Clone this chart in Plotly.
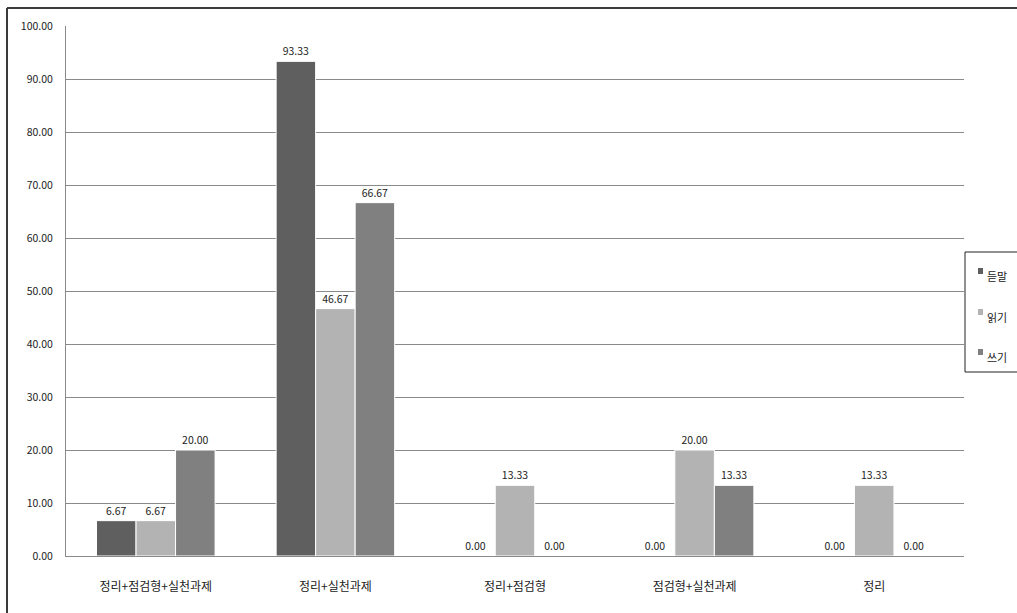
import plotly.graph_objects as go

# Categories (x axis) and the three series
categories = ["정리+점검형+실천과제", "정리+실천과제", "정리+점검형", "점검형+실천과제", "정리"]
series_names = ["듣말", "읽기", "쓰기"]
listen_speak = [6.67, 93.33, 0.00, 0.00, 0.00]
reading = [6.67, 46.67, 13.33, 20.00, 13.33]
writing = [20.00, 66.67, 0.00, 13.33, 0.00]
y_ticks = [0, 10, 20, 30, 40, 50, 60, 70, 80, 90, 100]

colors = ["#5f5f5f", "#b3b3b3", "#808080"]
FONT = "Noto Sans CJK KR, Noto Sans, sans-serif"

W, H = 1017, 613
L, R, T, B = 66, 53, 26, 57
PW, PH = W - L - R, H - T - B


def px_x(px):
    return (px - L) / PW


def px_y(py):
    return (H - B - py) / PH


fig = go.Figure()
for name, vals, col in zip(series_names, [listen_speak, reading, writing], colors):
    fig.add_trace(go.Bar(
        x=categories, y=vals, name=name,
        marker=dict(color=col, line=dict(color="white", width=1)),
        text=[f"{v:.2f}" for v in vals], textposition="outside",
        textfont=dict(family=FONT, size=10.5, color="#222"),
        cliponaxis=False, showlegend=False,
    ))

shapes = []
# outer chart frame (top and left edges)
shapes.append(dict(type="line", xref="paper", yref="paper",
                   x0=px_x(7), x1=px_x(W + 60), y0=px_y(8), y1=px_y(8),
                   line=dict(color="#3a3a3a", width=2)))
shapes.append(dict(type="line", xref="paper", yref="paper",
                   x0=px_x(7), x1=px_x(7), y0=px_y(8), y1=px_y(H + 60),
                   line=dict(color="#3a3a3a", width=2)))
# legend box
shapes.append(dict(type="rect", xref="paper", yref="paper",
                   x0=px_x(965), x1=px_x(W + 60), y0=px_y(252), y1=px_y(372),
                   line=dict(color="#222", width=1), fillcolor="white"))

annotations = []
item_y = [271, 312, 352]
for name, col, yy in zip(series_names, colors, item_y):
    shapes.append(dict(type="rect", xref="paper", yref="paper",
                       x0=px_x(978), x1=px_x(983), y0=px_y(yy - 3), y1=px_y(yy + 3),
                       line=dict(width=0), fillcolor=col))
    annotations.append(dict(xref="paper", yref="paper", x=px_x(985), y=px_y(yy + 5),
                            text=name, showarrow=False, xanchor="left", yanchor="middle",
                            font=dict(family=FONT, size=11, color="#222")))

fig.update_layout(
    width=W, height=H, autosize=False,
    margin=dict(l=L, r=R, t=T, b=B, pad=0),
    paper_bgcolor="white", plot_bgcolor="white",
    barmode="group", bargap=0.34, bargroupgap=0,
    shapes=shapes, annotations=annotations,
    font=dict(family=FONT, color="#222"),
    xaxis=dict(showline=True, linecolor="#8a8a8a", linewidth=1, ticks="",
               tickfont=dict(family=FONT, size=12, color="#222"),
               ticklabelstandoff=20, showgrid=False, fixedrange=True),
    yaxis=dict(range=[0, 100], tickvals=y_ticks, tickformat=".2f",
               showgrid=True, gridcolor="#8a8a8a", gridwidth=1,
               showline=True, linecolor="#8a8a8a", linewidth=1, ticks="",
               zeroline=False,
               tickfont=dict(family=FONT, size=10.5, color="#222"),
               ticklabelstandoff=10, fixedrange=True),
)

fig.write_html("out.html")
